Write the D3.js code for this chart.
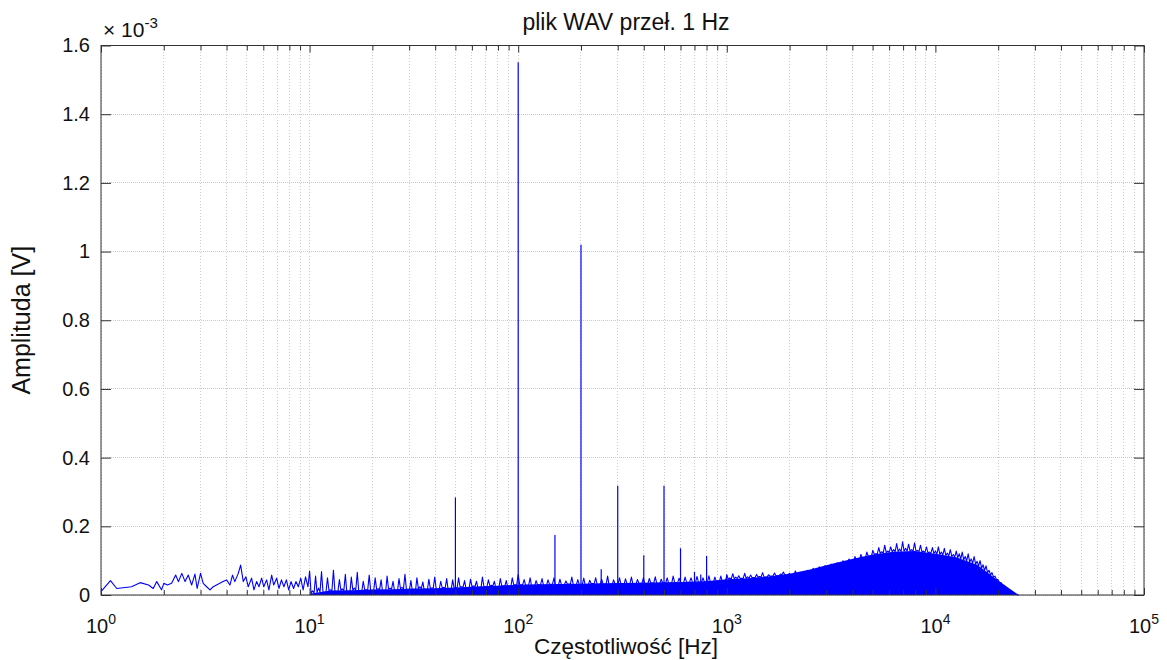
<!DOCTYPE html>
<html>
<head>
<meta charset="utf-8">
<script src="https://cdn.jsdelivr.net/npm/d3@7"></script>
<style>
  body { margin: 0; background: #fff; }
  text { font-family: "Liberation Sans", Arial, sans-serif; fill: #111; }
</style>
</head>
<body>
<svg id="chart" width="1167" height="660"></svg>
<script>
// ---- labels and ticks ----
const titleText = "plik WAV przeł. 1 Hz";
const xLabelText = "Częstotliwość [Hz]";
const yLabelText = "Amplituda [V]";
const yTickValues = [0, 0.2, 0.4, 0.6, 0.8, 1, 1.2, 1.4, 1.6];   // in units of 1e-3 V
const xDecadeExponents = [0, 1, 2, 3, 4, 5];

// ---- spectrum, 1 Hz .. 10 Hz (individual bins, amplitude ×1e-3 V) ----
const lowFreq = [1.0,1.11,1.19,1.40,1.54,1.69,1.78,1.85,1.95,2.0,2.08,2.18,2.28,2.35,2.44,2.53,2.62,2.72,2.82,2.89,
  3.0,3.09,3.21,3.33,3.45,3.58,3.71,3.85,4.0,4.15,4.27,4.38,4.55,4.67,4.81,4.95,5.08,5.27,5.41,5.57,
  5.72,5.89,6.03,6.22,6.38,6.58,6.73,6.95,7.13,7.33,7.53,7.74,7.94,8.15,8.38,8.6,8.83,9.07,9.31,9.56,9.82];
const lowAmp = [0.010,0.042,0.019,0.024,0.036,0.029,0.019,0.039,0.015,0.034,0.029,0.034,0.058,0.039,0.063,0.039,0.058,0.029,0.061,0.019,
  0.063,0.034,0.024,0.015,0.024,0.029,0.034,0.039,0.044,0.029,0.058,0.039,0.063,0.087,0.039,0.053,0.024,0.049,0.015,0.039,
  0.024,0.049,0.024,0.044,0.015,0.058,0.029,0.049,0.019,0.044,0.024,0.044,0.015,0.039,0.019,0.039,0.024,0.049,0.015,0.053,0.024];

// ---- noise band peaks, 10 Hz .. 25 kHz, one value every 1/70 decade ----
const bandStartHz = 10;
const bandPerDecade = 70;
const bandTop = [
  // 10 - 100 Hz
  0.07,0.012,0.055,0.02,0.068,0.008,0.05,0.015,0.072,0.01,0.045,0.018,0.06,0.006,0.052,0.02,0.066,0.01,0.04,0.015,0.058,
  0.012,0.05,0.018,0.044,0.008,0.055,0.02,0.04,0.012,0.048,0.022,0.06,0.015,0.042,0.01,0.05,0.024,0.038,0.012,0.046,0.02,0.052,0.016,0.04,0.022,0.048,0.014,0.044,
  0.02,0.05,0.024,0.042,0.018,0.046,0.026,0.04,0.02,0.052,0.024,0.044,0.028,0.04,0.02,0.048,0.026,0.042,0.022,0.05,0.03,
  // 100 Hz - 1 kHz
  0.06,0.03,0.045,0.028,0.05,0.026,0.042,0.03,0.048,0.027,0.044,0.031,0.05,0.028,0.046,0.03,0.041,0.032,0.052,0.029,
  0.045,0.03,0.049,0.028,0.043,0.033,0.05,0.03,0.046,0.031,0.055,0.029,0.044,0.032,0.05,0.03,0.047,0.033,0.052,0.031,
  0.045,0.034,0.05,0.032,0.048,0.035,0.053,0.033,0.046,0.035,0.05,0.034,0.055,0.036,0.049,0.035,0.052,0.037,0.05,0.036,
  0.054,0.037,0.05,0.038,0.056,0.037,0.052,0.039,0.055,0.038,
  // 1 kHz - 10 kHz
  0.058,0.05,0.062,0.052,0.056,0.049,0.063,0.053,0.058,0.051,0.06,0.054,0.065,0.052,0.059,
  0.055,0.064,0.056,0.061,0.067,0.058,0.063,0.057,0.07,0.06,0.066,0.061,0.072,0.063,
  0.078,0.068,0.082,0.072,0.086,0.075,0.09,
  0.08,0.094,0.085,0.1,0.09,0.105,0.096,
  0.112,0.1,0.118,0.108,0.125,0.112,0.13,
  0.12,0.138,0.126,0.145,0.128,0.14,0.132,
  0.15,0.134,0.155,0.136,0.148,0.132,0.152,
  0.13,0.145,0.128,0.14,0.125,0.138,
  // 10 kHz - 25 kHz
  0.128,0.14,0.125,0.136,0.122,0.132,0.118,0.128,0.12,0.125,0.112,0.12,0.105,0.112,0.098,0.1,0.088,0.085,0.072,0.065,
  0.055,0.045,0.036,0.028,0.02,0.012,0.006,0.002,0
];

// ---- solid body of the noise floor, one value every 1/10 decade from 10 Hz ----
const bodyStartHz = 10;
const bodyPerDecade = 10;
const bandBody = [
  0.004,0.013,0.014,0.016,0.017,0.019,0.02,0.022,0.025,0.027,
  0.03,0.031,0.032,0.033,0.034,0.035,0.036,0.037,0.038,0.04,
  0.046,0.049,0.054,0.062,0.074,0.09,0.105,0.118,0.126,0.128,
  0.12,0.11,0.088,0.042,0
];

// ---- mains hum and harmonics ----
const toneFreq = [50, 100, 150, 200, 250, 300, 400, 500, 600, 700, 750, 800, 1000];
const toneAmp  = [0.284, 1.551, 0.175, 1.02, 0.075, 0.318, 0.116, 0.318, 0.136, 0.067, 0.06, 0.114, 0.06];

// ---- layout ----
const plot = { left: 101, right: 1144, top: 45.5, bottom: 595 };
const blue = "#0000ff";

const svg = d3.select("#chart");
const x = d3.scaleLog().domain([1, 1e5]).range([plot.left, plot.right]);
const y = d3.scaleLinear().domain([0, 1.6]).range([plot.bottom, plot.top]);

// all 1..9 × 10^k positions on the log axis
const majorPos = xDecadeExponents.map(k => Math.pow(10, k));
const minorPos = [];
for (let k = 0; k < 5; k++) for (let m = 2; m <= 9; m++) minorPos.push(m * Math.pow(10, k));

// ---- grid ----
const grid = svg.append("g");
grid.selectAll("line.vg").data(majorPos.concat(minorPos)).join("line")
  .attr("x1", d => x(d)).attr("x2", d => x(d))
  .attr("y1", plot.top).attr("y2", plot.bottom)
  .attr("stroke", "#cdcdcd").attr("stroke-width", 1).attr("stroke-dasharray", "1,2")
  .attr("shape-rendering", "crispEdges");
grid.selectAll("line.hg").data(yTickValues).join("line")
  .attr("x1", plot.left).attr("x2", plot.right)
  .attr("y1", d => y(d)).attr("y2", d => y(d))
  .attr("stroke", "#c8c8c8").attr("stroke-width", 1).attr("stroke-dasharray", "1,1")
  .attr("shape-rendering", "crispEdges");

// ---- data ----
const bandPts = bandTop.map((a, i) => ({ f: bandStartHz * Math.pow(10, i / bandPerDecade), a }));
const bodyPts = bandBody.map((a, i) => ({ f: bodyStartHz * Math.pow(10, i / bodyPerDecade), a }));
const lowPts = d3.zip(lowFreq, lowAmp).map(([f, a]) => ({ f, a }));

// level of the solid body edge at any frequency (same edge the area draws)
const bodyAt = d3.scaleLinear()
  .domain(bodyPts.map(d => Math.log10(d.f)))
  .range(bodyPts.map(d => d.a))
  .clamp(true);

// trace: each peak sample drops back to the body edge before the next one
const trace = lowPts.slice();
bandPts.forEach((p, i) => {
  trace.push(p);
  const next = bandPts[i + 1];
  if (next) {
    const fm = Math.sqrt(p.f * next.f);
    trace.push({ f: fm, a: Math.min(bodyAt(Math.log10(fm)), p.a, next.a) });
  }
});

const dataG = svg.append("g");
dataG.append("path")
  .datum(bodyPts)
  .attr("fill", blue)
  .attr("d", d3.area().x(d => x(d.f)).y0(y(0)).y1(d => y(d.a)));

dataG.append("path")
  .datum(trace)
  .attr("fill", "none").attr("stroke", blue).attr("stroke-width", 1.1)
  .attr("stroke-linejoin", "round")
  .attr("d", d3.line().x(d => x(d.f)).y(d => y(d.a)));

dataG.selectAll("line.tone").data(d3.zip(toneFreq, toneAmp)).join("line")
  .attr("x1", d => x(d[0])).attr("x2", d => x(d[0]))
  .attr("y1", y(0)).attr("y2", d => y(d[1]))
  .attr("stroke", blue).attr("stroke-width", 1.2);

// ---- axes ----
const axisColor = "#333";
const styleAxis = g => {
  g.select(".domain").remove();
  g.selectAll(".tick line").attr("stroke", axisColor);
};

svg.append("g").attr("transform", `translate(${plot.left},0)`)
  .call(d3.axisLeft(y).tickValues(yTickValues).tickSizeInner(-10).tickSizeOuter(0).tickPadding(11)
        .tickFormat(d => String(d)))
  .call(styleAxis)
  .call(g => g.selectAll(".tick text").attr("font-size", 20).attr("fill", "#111")
        .attr("font-family", "Liberation Sans, Arial, sans-serif"));
svg.append("g").attr("transform", `translate(${plot.right},0)`)
  .call(d3.axisRight(y).tickValues(yTickValues).tickSizeInner(-10).tickSizeOuter(0).tickFormat(""))
  .call(styleAxis);

[[d3.axisBottom, plot.bottom], [d3.axisTop, plot.top]].forEach(([ax, ypos]) => {
  svg.append("g").attr("transform", `translate(0,${ypos})`)
    .call(ax(x).tickValues(majorPos).tickSizeInner(-7).tickSizeOuter(0).tickFormat(""))
    .call(styleAxis);
  svg.append("g").attr("transform", `translate(0,${ypos})`)
    .call(ax(x).tickValues(minorPos).tickSizeInner(-5).tickSizeOuter(0).tickFormat(""))
    .call(styleAxis);
});

svg.append("rect")
  .attr("x", plot.left).attr("y", plot.top)
  .attr("width", plot.right - plot.left).attr("height", plot.bottom - plot.top)
  .attr("fill", "none").attr("stroke", axisColor).attr("stroke-width", 1);

// decade labels 10^k
const xl = svg.append("g");
xDecadeExponents.forEach(k => {
  const t = xl.append("text")
    .attr("x", x(Math.pow(10, k))).attr("y", 633)
    .attr("text-anchor", "middle").attr("font-size", 20);
  t.append("tspan").text("10");
  t.append("tspan").attr("dy", -9).attr("font-size", 14).text(String(k));
});

// exponent marker above the y axis
const ex = svg.append("text").attr("x", 103).attr("y", 37).attr("font-size", 21);
ex.append("tspan").text("× 10");
ex.append("tspan").attr("dy", -9).attr("font-size", 15).text("-3");

// title and axis labels
svg.append("text").attr("x", 626).attr("y", 30).attr("text-anchor", "middle")
  .attr("font-size", 23).text(titleText);
svg.append("text").attr("x", 626).attr("y", 654).attr("text-anchor", "middle")
  .attr("font-size", 22.5).text(xLabelText);
svg.append("text").attr("transform", `translate(30,${(plot.top + plot.bottom) / 2}) rotate(-90)`)
  .attr("text-anchor", "middle").attr("font-size", 25).text(yLabelText);
</script>
</body>
</html>
